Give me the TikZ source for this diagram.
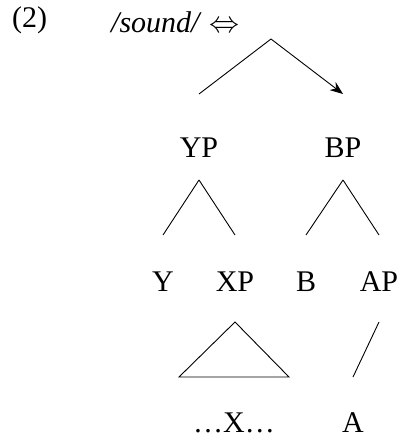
\documentclass[tikz,border=0pt]{standalone}
\usepackage{fix-cm}
\usepackage{fontspec}
\setmainfont{Liberation Serif}
\usetikzlibrary{arrows.meta}
\begin{document}
\begin{tikzpicture}[x=1pt,y=1pt,
  lab/.style={font=\fontsize{30}{35}\selectfont, inner sep=0pt, anchor=base},
  edge/.style={line width=0.9pt},
  tip/.style={-{Stealth[length=13pt,width=10pt,inset=4pt]}}
]
\useasboundingbox (0,0) rectangle (400,-438);
\node[lab, anchor=base west] (ex) at (12,-28) {(2)};
\node[lab, anchor=base west] (snd) at (111,-33) {\textit{/sound/} $\Leftrightarrow$};
\coordinate (root) at (271,-39);
\node[lab] (YP) at (199,-158) {YP};
\node[lab] (BP) at (343,-158) {BP};
\node[lab] (Y)  at (163,-291) {Y};
\node[lab] (XP) at (235,-291) {XP};
\node[lab] (B)  at (306,-291) {B};
\node[lab] (AP) at (379,-291) {AP};
\node[lab] (dots) at (234,-432) {…X…};
\node[lab] (A)  at (353,-432) {A};
% root
\draw[edge] (root) -- ([yshift=64pt]YP.base);
\draw[edge,tip] (root) -- ([yshift=64pt]BP.base);
% YP
\draw[edge] ([yshift=-22pt]YP.base) -- ([yshift=56pt]Y.base);
\draw[edge] ([yshift=-22pt]YP.base) -- ([yshift=56pt]XP.base);
% BP
\draw[edge] ([yshift=-22pt]BP.base) -- ([yshift=56pt]B.base);
\draw[edge] ([yshift=-22pt]BP.base) -- ([yshift=56pt]AP.base);
% triangle
\draw[edge] ([yshift=-31pt]XP.base) -- ([xshift=-55pt,yshift=55pt]dots.base) -- ([xshift=55pt,yshift=55pt]dots.base) -- cycle;
% AP to A
\draw[edge] ([yshift=-31pt]AP.base) -- ([yshift=55pt]A.base);
\end{tikzpicture}
\end{document}
